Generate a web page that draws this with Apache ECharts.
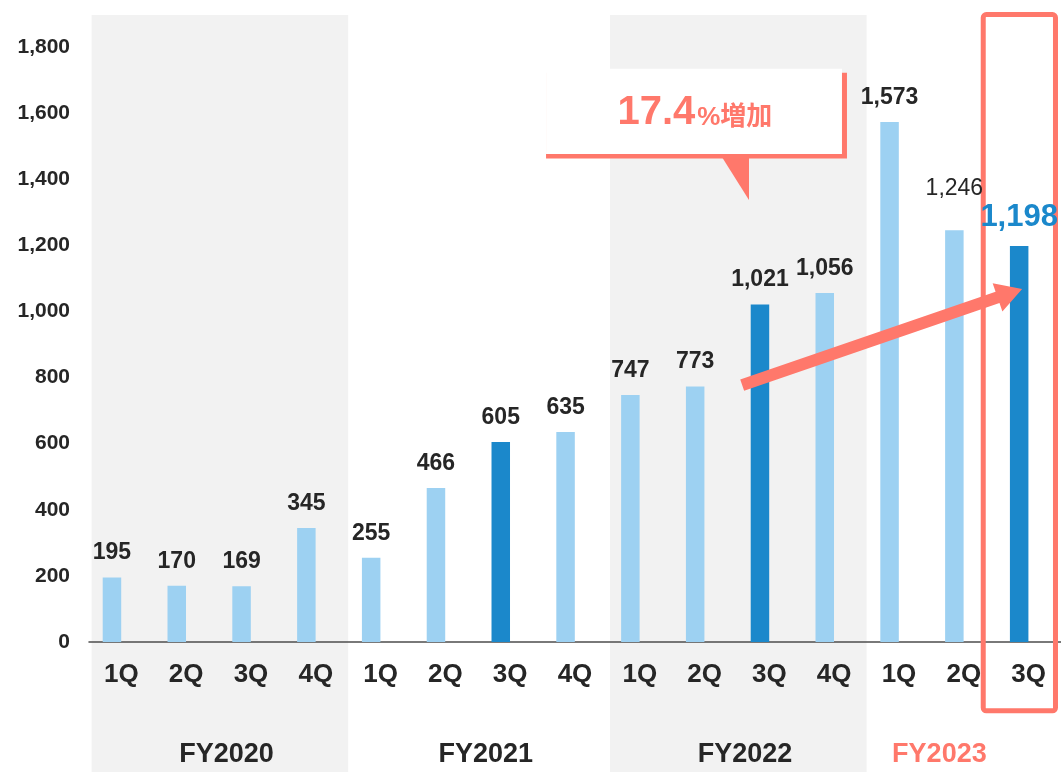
<!DOCTYPE html>
<html>
<head>
<meta charset="utf-8">
<script src="https://cdn.jsdelivr.net/npm/echarts@6/dist/echarts.min.js"></script>
<style>
  html, body { margin: 0; padding: 0; background: #ffffff; }
  #chart { width: 1061px; height: 772px; }
</style>
</head>
<body>
<div id="chart"></div>
<script>
// Quarterly results, FY2020 1Q – FY2023 3Q
const quarters = ['1Q', '2Q', '3Q', '4Q', '1Q', '2Q', '3Q', '4Q', '1Q', '2Q', '3Q', '4Q', '1Q', '2Q', '3Q'];
const fiscalYears = ['FY2020', 'FY2021', 'FY2022', 'FY2023'];
const fiscalYearFirstQuarter = [0, 4, 8, 12];
const values = [195, 170, 169, 345, 255, 466, 605, 635, 747, 773, 1021, 1056, 1573, 1246, 1198];
const thirdQuarterHighlight = [6, 10, 14];
const growthRate = '17.4';
const growthSuffix = '%増加';

const FONT = "'Liberation Sans', Arial, 'Noto Sans CJK JP', sans-serif";
const TEXT = '#262626';
const LIGHT = '#9dd1f2';
const DARK = '#1b88cb';
const ACCENT = '#ff786b';
const BAND = '#f2f2f2';

const fmt = v => Number(v).toLocaleString('en-US');
const latest = values.length - 1;
const previous = values.length - 2;

const chart = echarts.init(document.getElementById('chart'), null, { renderer: 'canvas' });

const barData = values.map((v, i) => {
  const item = {
    value: v,
    itemStyle: { color: thirdQuarterHighlight.includes(i) ? DARK : LIGHT }
  };
  if (i === previous) {
    item.label = { fontWeight: 'normal', distance: 30 };
  }
  if (i === latest) {
    item.label = { color: DARK, fontSize: 31, distance: 13 };
  }
  return item;
});

const option = {
  animation: false,
  backgroundColor: '#ffffff',
  textStyle: { fontFamily: FONT },
  grid: { left: 89, right: 0, top: 47, bottom: 130, outerBoundsMode: 'none', containLabel: false },
  xAxis: {
    type: 'category',
    data: quarters.map((q, i) => i),
    axisLine: { show: true, lineStyle: { color: '#4d4d4d', width: 1.5 } },
    axisTick: { show: false },
    axisLabel: {
      interval: 0,
      margin: 20,
      color: TEXT,
      fontFamily: FONT,
      fontSize: 26,
      fontWeight: 'bold',
      formatter: (v, i) => quarters[i]
    },
    splitLine: { show: false }
  },
  yAxis: {
    type: 'value',
    min: 0,
    max: 1800,
    interval: 200,
    axisLine: { show: false },
    axisTick: { show: false },
    splitLine: { show: false },
    axisLabel: {
      margin: 19,
      color: TEXT,
      fontFamily: FONT,
      fontSize: 21,
      fontWeight: 'bold',
      formatter: v => fmt(v)
    }
  },
  series: [
    {
      name: '売上',
      type: 'bar',
      barWidth: 18.5,
      barGap: '2%',
      data: barData,
      label: {
        show: true,
        position: 'top',
        distance: 13,
        color: TEXT,
        fontFamily: FONT,
        fontSize: 23,
        fontWeight: 'bold',
        formatter: p => fmt(p.value)
      }
    },
    {
      // empty companion slot: keeps each bar just left of its tick centre
      name: 'slot',
      type: 'bar',
      barWidth: 18.5,
      data: values.map(() => null)
    }
  ]
};

chart.setOption(option);

// Decorations placed in axis coordinates (fractional category index, value)
const x0 = chart.convertToPixel({ xAxisIndex: 0 }, 0);
const cw = chart.convertToPixel({ xAxisIndex: 0 }, 1) - x0;
const X = idx => x0 + idx * cw;
const Y = v => chart.convertToPixel({ yAxisIndex: 0 }, v);
const H = chart.getHeight();

const elements = [];

// shaded fiscal-year bands (FY2020, FY2022)
[0, 2].forEach(k => {
  const s = fiscalYearFirstQuarter[k];
  const top = Y(1900) + 1;
  const left = X(s - 0.46);
  elements.push({
    type: 'rect',
    z: -1,
    silent: true,
    shape: { x: left, y: top, width: X(s + 3.5) - left, height: H - top },
    style: { fill: BAND }
  });
});

// fiscal year labels under the quarter labels
const fyAnchor = [1.5, 5.5, 9.5, 12.5];
fiscalYears.forEach((fy, k) => {
  elements.push({
    type: 'text',
    z: 5,
    silent: true,
    x: X(fyAnchor[k]) + 8,
    y: Y(0) + 113,
    style: {
      text: fy,
      align: 'center',
      verticalAlign: 'middle',
      fontFamily: FONT,
      fontSize: 27,
      fontWeight: 'bold',
      fill: k === fiscalYears.length - 1 ? ACCENT : TEXT
    }
  });
});

// frame around the latest quarter
{
  const l = X(latest - 0.70), r = X(latest + 0.415);
  const t = Y(1898), b = Y(-208);
  elements.push({
    type: 'rect',
    z: 1,
    silent: true,
    shape: { x: l, y: t, width: r - l, height: b - t, r: 3 },
    style: { fill: 'none', stroke: ACCENT, lineWidth: 5 }
  });
}

// growth arrow from FY2022 toward FY2023 3Q
{
  const T = [X(9.58), Y(777)];
  const P = [X(13.9), Y(1068)];
  const dx = P[0] - T[0], dy = P[1] - T[1];
  const len = Math.hypot(dx, dy);
  const u = [dx / len, dy / len];
  const n = [-u[1], u[0]];
  const shaft = 6, head = 15, headLen = 26;
  const B = [P[0] - u[0] * headLen, P[1] - u[1] * headLen];
  const pt = (p, k) => [p[0] + n[0] * k, p[1] + n[1] * k];
  elements.push({
    type: 'polygon',
    z: 10,
    silent: true,
    shape: { points: [pt(T, shaft), pt(B, shaft), pt(B, head), P, pt(B, -head), pt(B, -shaft), pt(T, -shaft)] },
    style: { fill: ACCENT }
  });
}

// callout box with growth rate
{
  const l = X(6.553), r = X(11.12);
  const t = Y(1734), b = Y(1476.6);
  elements.push({
    type: 'rect', z: 10, silent: true,
    shape: { x: l, y: t + 4, width: r - l + 5, height: b - t + 0.5 },
    style: { fill: ACCENT }
  });
  elements.push({
    type: 'rect', z: 11, silent: true,
    shape: { x: l, y: t, width: r - l, height: b - t },
    style: { fill: '#ffffff' }
  });
  elements.push({
    type: 'polygon', z: 10, silent: true,
    shape: { points: [[X(9.238), b], [X(9.685), b], [X(9.685), Y(1337.4)]] },
    style: { fill: ACCENT }
  });
  elements.push({
    type: 'text', z: 12, silent: true,
    x: X(8.85),
    y: Y(1600.8),
    style: {
      text: '{a|' + growthRate + '}{b|' + growthSuffix + '}',
      align: 'center',
      verticalAlign: 'middle',
      fill: ACCENT,
      fontFamily: FONT,
      rich: {
        a: { fontSize: 40, fontWeight: 'bold', fill: ACCENT, fontFamily: FONT, verticalAlign: 'bottom' },
        b: { fontSize: 26, fontWeight: 'bold', fill: ACCENT, fontFamily: FONT, verticalAlign: 'bottom', padding: [0, 0, 2, 2] }
      }
    }
  });
}

chart.setOption({ graphic: { elements } });
</script>
</body>
</html>
